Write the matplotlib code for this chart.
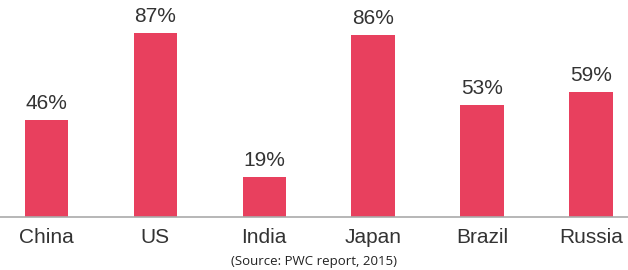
import matplotlib
matplotlib.use("Agg")
import matplotlib.pyplot as plt

countries = ["China", "US", "India", "Japan", "Brazil", "Russia"]
shares = [46, 87, 19, 86, 53, 59]
labels = ["46%", "87%", "19%", "86%", "53%", "59%"]

plt.rcParams['font.family'] = ['Liberation Sans', 'DejaVu Sans']

fig = plt.figure(figsize=(6.28, 2.70), dpi=100)
ax = fig.add_axes([0, 53 / 270, 1, 217 / 270])

x = range(len(countries))
bars = ax.bar(x, shares, width=0.4, color='#E8405E')

for b, lab in zip(bars, labels):
    ax.annotate(lab, (b.get_x() + b.get_width() / 2, b.get_height()),
                xytext=(0, 5), textcoords='offset points',
                ha='center', va='bottom', fontsize=15, color='#333333')

ax.set_xlim(-0.427, 5.34)
ax.set_ylim(0, 102.6)
ax.set_xticks(list(x))
ax.set_xticklabels(countries, fontsize=15, color='#333333')
ax.tick_params(axis='x', length=0, pad=8)
ax.set_yticks([])
for s in ['top', 'left', 'right']:
    ax.spines[s].set_visible(False)
ax.spines['bottom'].set_color('#aaaaaa')
ax.spines['bottom'].set_linewidth(1.2)

fig.text(0.5, 8 / 270, "(Source: PWC report, 2015)", ha='center', va='center',
         fontsize=9.5, color='#222222', family=['Open Sans', 'DejaVu Sans'])

fig.savefig("out.png", dpi=100)
